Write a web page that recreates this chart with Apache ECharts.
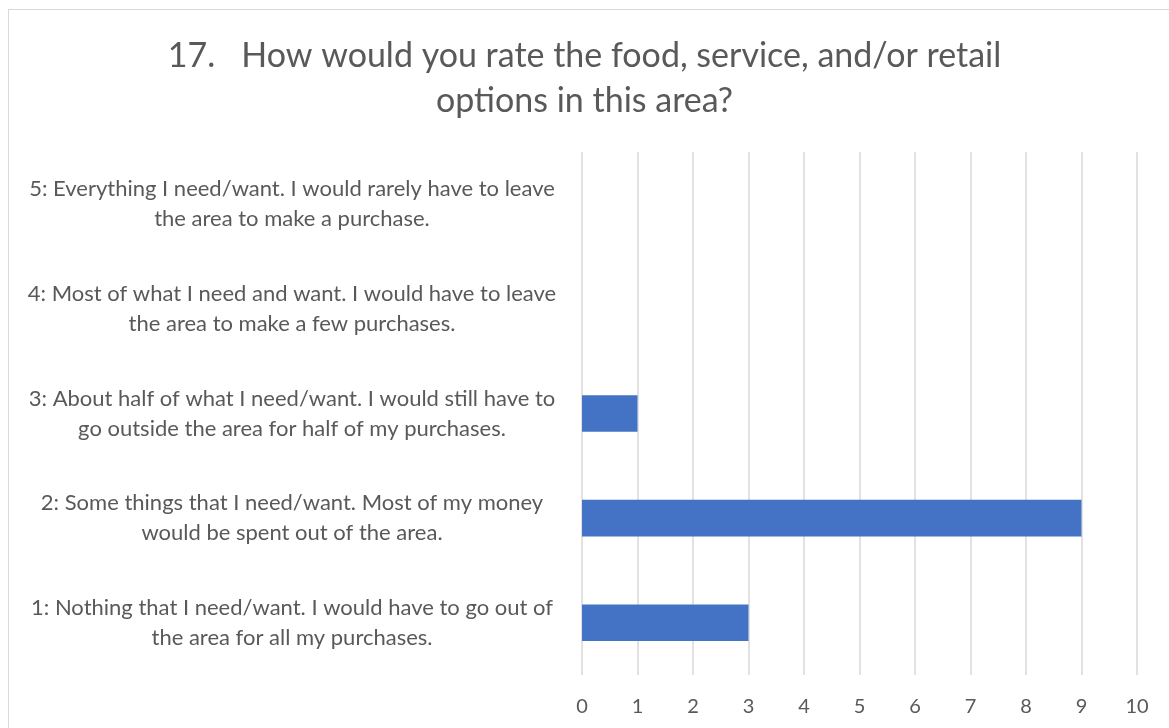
<!DOCTYPE html>
<html>
<head>
<meta charset="utf-8">
<script src="https://cdn.jsdelivr.net/npm/echarts@6/dist/echarts.min.js"></script>
<style>
  html, body { margin: 0; padding: 0; background: #fff; }
  #frame { position: absolute; left: 8px; top: 9px; width: 1170px; height: 730px; border: 1px solid #d9d9d9; box-sizing: border-box; }
  #chart { position: absolute; left: 0; top: 0; width: 1169px; height: 728px; }
</style>
</head>
<body>
<div id="frame"></div>
<div id="chart"></div>
<script>
// answer options, bottom to top as drawn
const categories = [
  '1: Nothing that I need/want. I would have to go out of\nthe area for all my purchases.',
  '2: Some things that I need/want. Most of my money\nwould be spent out of the area.',
  '3: About half of what I need/want. I would still have to\ngo outside the area for half of my purchases.',
  '4: Most of what I need and want. I would have to leave\nthe area to make a few purchases.',
  '5: Everything I need/want. I would rarely have to leave\nthe area to make a purchase.'
];
const counts = [3, 9, 1, 0, 0];
const titleText = '17.   How would you rate the food, service, and/or retail\noptions in this area?';

const fontFamily = 'Lato, "Open Sans", sans-serif';
const chart = echarts.init(document.getElementById('chart'));
chart.setOption({
  animation: false,
  title: {
    text: titleText,
    left: 'center',
    top: 29,
    textStyle: { color: '#595959', fontSize: 34, fontWeight: 'normal', fontFamily, lineHeight: 45, align: 'center' }
  },
  grid: { left: 582, right: 32, top: 152, bottom: 53 },
  xAxis: {
    type: 'value',
    min: 0,
    max: 10,
    interval: 1,
    axisLine: { show: false },
    axisTick: { show: false },
    axisLabel: { color: '#595959', fontSize: 20, fontFamily, margin: 22 },
    splitLine: { lineStyle: { color: '#d9d9d9', width: 1.5 } }
  },
  yAxis: {
    type: 'category',
    data: categories,
    axisLine: { show: false },
    axisTick: { show: false },
    axisLabel: {
      color: '#595959',
      fontSize: 22,
      fontFamily,
      lineHeight: 30,
      align: 'center',
      margin: 290
    }
  },
  series: [{
    type: 'bar',
    data: counts,
    barWidth: '35%',
    itemStyle: { color: '#4472c4' }
  }]
});
</script>
</body>
</html>
